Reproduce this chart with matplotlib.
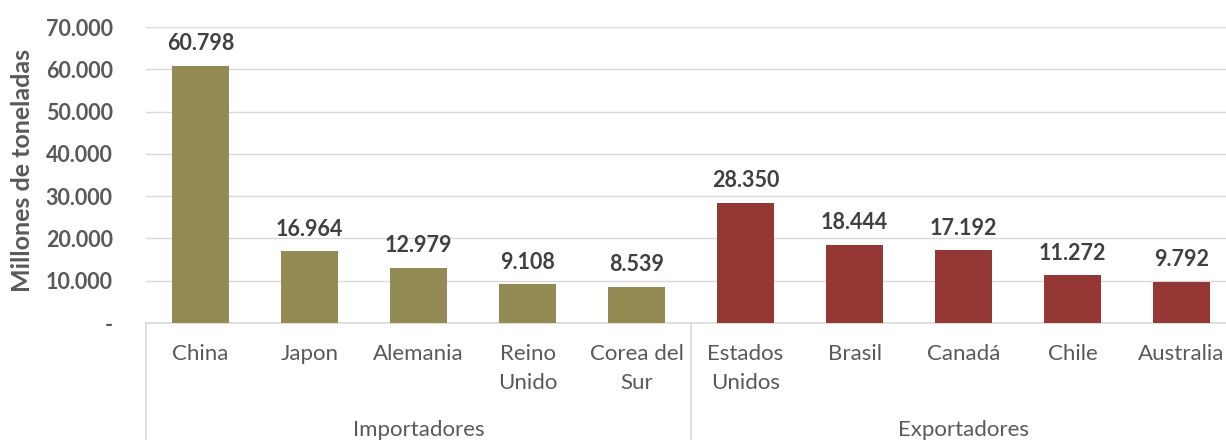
import numpy as np
import matplotlib
matplotlib.use("Agg")
import matplotlib.pyplot as plt
import matplotlib.transforms as mtransforms

countries = ["China", "Japon", "Alemania", "Reino\nUnido", "Corea del\nSur",
             "Estados\nUnidos", "Brasil", "Canadá", "Chile", "Australia"]
values = [60798, 16964, 12979, 9108, 8539, 28350, 18444, 17192, 11272, 9792]
groups = ["Importadores", "Exportadores"]
group_sizes = [5, 5]
yticks = [0, 10000, 20000, 30000, 40000, 50000, 60000, 70000]

OLIVE = "#948A54"
RED = "#953735"
GREY = "#595959"
LINE = "#D9D9D9"

plt.rcParams.update({"font.family": ["Lato", "DejaVu Sans"]})

W, H = 1226, 440
fig = plt.figure(figsize=(W / 100, H / 100), dpi=100)
left, right, bot, top = 146, 1236, 323, 27
ax = fig.add_axes([left / W, 1 - bot / H, (right - left) / W, (bot - top) / H])


def fmt(v):
    if v == 0:
        return "-"
    return f"{int(v):,}".replace(",", ".")


colors = [OLIVE] * group_sizes[0] + [RED] * group_sizes[1]
x = np.arange(len(values))
ax.bar(x, values, width=0.53, color=colors, zorder=3)
ax.set_xlim(-0.5, len(values) - 0.5)
ax.set_ylim(0, 70000)
ax.set_yticks(yticks)
ax.set_yticklabels([fmt(v) for v in yticks], fontweight="bold", fontsize=15.5,
                   color=GREY)
ax.grid(axis="y", color=LINE, lw=1, zorder=0)
ax.set_axisbelow(True)
for s in ("top", "right", "left"):
    ax.spines[s].set_visible(False)
ax.spines["bottom"].set_color(LINE)
ax.spines["bottom"].set_linewidth(1.2)
ax.tick_params(axis="y", length=0, pad=24)
ax.set_xticks([])

# value labels
for xi, v in zip(x, values):
    ax.annotate(fmt(v), (xi, v), xytext=(0, 16), textcoords="offset points",
                ha="center", va="center", fontsize=15.5, fontweight="bold",
                color="#404040")

# category labels (two-level axis)
trans = mtransforms.blended_transform_factory(ax.transData, ax.transAxes)
px = 1 / (bot - top)
for xi, name in zip(x, countries):
    for i, line in enumerate(name.split("\n")):
        ax.text(xi, -(31 + 29 * i) * px, line, transform=trans, ha="center",
                va="center", fontsize=16, color=GREY, clip_on=False)

start = 0
for g, n in zip(groups, group_sizes):
    ax.plot([start - 0.5, start - 0.5], [0, -(H - bot) * px], transform=trans,
            color=LINE, lw=1.2, clip_on=False)
    ax.text(start + (n - 1) / 2, -107 * px, g, transform=trans, ha="center",
            va="center", fontsize=16, color=GREY, clip_on=False)
    start += n

fig.text(23 / W, 1 - 170 / H, "Millones de toneladas", rotation=90,
         ha="center", va="center", fontsize=18, fontweight="bold", color=GREY)

fig.savefig("out.png", dpi=100)
